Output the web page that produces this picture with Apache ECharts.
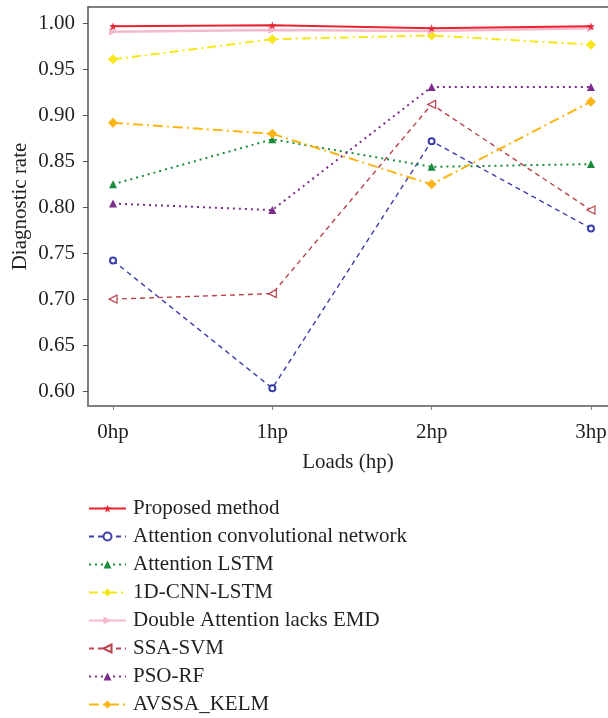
<!DOCTYPE html>
<html>
<head>
<meta charset="utf-8">
<script src="https://cdn.jsdelivr.net/npm/echarts@6/dist/echarts.min.js"></script>
<style>
  html, body { margin: 0; padding: 0; background: #fff; }
  #chart { width: 608px; height: 718px; }
</style>
</head>
<body>
<div id="chart"></div>
<script>
// Load conditions (x positions 0..3) and their tick labels
const loads = [0, 1, 2, 3];
const loadLabels = ['0hp', '1hp', '2hp', '3hp'];
const rateTicks = [0.60, 0.65, 0.70, 0.75, 0.80, 0.85, 0.90, 0.95, 1.00];

// Diagnostic rate of each method under each load
const proposed   = [0.997, 0.998, 0.995, 0.997];
const attnConv   = [0.742, 0.603, 0.872, 0.777];
const attnLstm   = [0.825, 0.874, 0.844, 0.847];
const cnnLstm    = [0.961, 0.983, 0.987, 0.977];
const doubleAttn = [0.991, 0.993, 0.992, 0.995];
const ssaSvm     = [0.700, 0.706, 0.912, 0.797];
const psoRf      = [0.804, 0.797, 0.931, 0.931];
const avssaKelm  = [0.892, 0.880, 0.825, 0.915];

const FONT = '"Liberation Serif", "DejaVu Serif", serif';
const STAR = 'path://M50,0 L61,35 L98,35 L68,57 L79,91 L50,70 L21,91 L32,57 L2,35 L39,35 Z';
const TRI_RIGHT = 'path://M0,0 L10,5 L0,10 Z';
const TRI_LEFT = 'path://M10,0 L0,5 L10,10 Z';

function pairs(values) {
  return loads.map((x, i) => [x, values[i]]);
}

function line(name, values, color, type, width, symbol, size, extra) {
  return Object.assign({
    name: name,
    type: 'line',
    data: pairs(values),
    symbol: symbol,
    symbolSize: size,
    color: color,
    lineStyle: { color: color, type: type, width: width },
    itemStyle: { color: color },
    z: 2
  }, extra || {});
}

const series = [
  line('Proposed method', proposed, '#e8232f', 'solid', 2, STAR, 8, { z: 9 }),
  line('Attention convolutional network', attnConv, '#3a3eaa', [5, 4], 1.4, 'emptyCircle', 6,
       { itemStyle: { color: '#3a3eaa', borderWidth: 1.2 } }),
  line('Attention LSTM', attnLstm, '#1a8c3c', [2, 4], 2, 'triangle', 8),
  line('1D-CNN-LSTM', cnnLstm, '#f6e71a', [9, 4, 2, 4], 2, 'diamond', 10),
  line('Double Attention lacks EMD', doubleAttn, '#f7b9cd', 'solid', 2.5, TRI_RIGHT, 8, { z: 8 }),
  line('SSA-SVM', ssaSvm, '#b9434c', [5, 4], 1.4, TRI_LEFT, 8,
       { itemStyle: { color: '#fff', borderColor: '#b9434c', borderWidth: 1.2 } }),
  line('PSO-RF', psoRf, '#7b2c8c', [2, 4], 2, 'triangle', 8),
  line('AVSSA_KELM', avssaKelm, '#fbb516', [10, 4, 2, 4], 2, 'diamond', 10)
];

const chart = echarts.init(document.getElementById('chart'), null, { renderer: 'canvas' });
chart.setOption({
  backgroundColor: '#fff',
  animation: false,
  textStyle: { fontFamily: FONT },
  grid: { left: 88, top: 7, right: 0, bottom: 312, containLabel: false, outerBoundsMode: 'none' },
  xAxis: [{
    type: 'value',
    min: -0.157,
    max: 3.107,
    name: 'Loads (hp)',
    nameLocation: 'middle',
    nameGap: 46,
    nameMoveOverlap: false,
    nameTextStyle: { fontFamily: FONT, fontSize: 21, color: '#231f20' },
    splitLine: { show: false },
    axisLine: { show: true, onZero: false, lineStyle: { color: '#808080', width: 2 } },
    axisTick: { show: true, customValues: loads, length: 4, lineStyle: { color: '#808080', width: 1 } },
    axisLabel: {
      customValues: loads,
      formatter: v => loadLabels[Math.round(v)],
      fontFamily: FONT, fontSize: 21, color: '#231f20', margin: 16
    }
  }, {
    type: 'value',
    position: 'top',
    min: -0.157,
    max: 3.107,
    axisLine: { show: true, onZero: false, lineStyle: { color: '#555', width: 1.5 } },
    axisTick: { show: false },
    axisLabel: { show: false },
    splitLine: { show: false }
  }],
  yAxis: {
    type: 'value',
    min: 0.5837,
    max: 1.018,
    name: 'Diagnostic rate',
    nameLocation: 'middle',
    nameGap: 57,
    nameMoveOverlap: false,
    nameTextStyle: { fontFamily: FONT, fontSize: 21, color: '#231f20' },
    splitLine: { show: false },
    axisLine: { show: true, onZero: false, lineStyle: { color: '#555', width: 1.5 } },
    axisTick: { show: true, customValues: rateTicks, length: 5, lineStyle: { color: '#555', width: 1 } },
    axisLabel: {
      customValues: rateTicks,
      formatter: v => v.toFixed(2),
      fontFamily: FONT, fontSize: 21, color: '#231f20', margin: 13
    }
  },
  legend: {
    orient: 'vertical',
    left: 88,
    top: 498,
    height: 220,
    padding: 0,
    itemWidth: 37,
    itemHeight: 10,
    itemGap: 7,
    textStyle: { fontFamily: FONT, fontSize: 21, color: '#231f20', lineHeight: 20, padding: [0, 0, 0, 2] },
    data: series.map(s => s.name)
  },
  series: series
});
</script>
</body>
</html>
